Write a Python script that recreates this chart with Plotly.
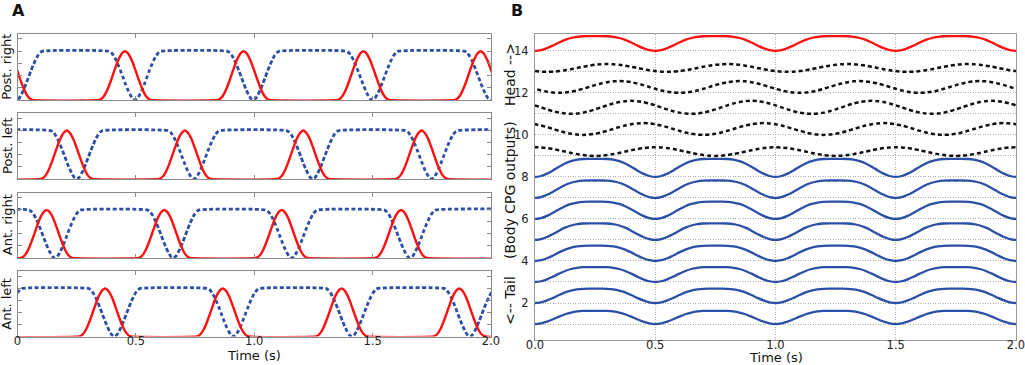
import plotly.graph_objects as go

# ---------------- Panel A data ----------------
LEG_NAMES = ["Post. right", "Post. left", "Ant. right", "Ant. left"]

# times (s) of the red bump peaks per leg
PR_RED_PEAKS = [-0.046, 0.454, 0.955, 1.461, 1.956]
PL_RED_PEAKS = [0.208, 0.707, 1.207, 1.707]
AR_RED_PEAKS = [0.123, 0.620, 1.116, 1.620]
AL_RED_PEAKS = [0.370, 0.867, 1.369, 1.866]

# times (s) of the blue dotted troughs per leg
PR_BLUE_TROUGHS = [-0.004, 0.496, 0.996, 1.499, 1.998]
PL_BLUE_TROUGHS = [0.250, 0.745, 1.247, 1.749]
AR_BLUE_TROUGHS = [0.158, 0.658, 1.158, 1.658]
AL_BLUE_TROUGHS = [-0.090, 0.409, 0.912, 1.412, 1.911]

LEG_AMPLITUDE = 0.8

# bump profile read around each event (time offset in s, fraction of amplitude)
PULSE_OFFSETS = [-0.11, -0.10, -0.09, -0.08, -0.07, -0.06, -0.05, -0.04, -0.03, -0.02, -0.01, 0.0,
                 0.01, 0.02, 0.03, 0.04, 0.05, 0.06, 0.07, 0.08, 0.09, 0.10, 0.11]
RED_BUMP_SHAPE = [0.0, 0.02, 0.07, 0.15, 0.26, 0.39, 0.53, 0.67, 0.80, 0.90, 0.97, 1.0,
                  0.97, 0.90, 0.80, 0.67, 0.53, 0.39, 0.26, 0.15, 0.07, 0.02, 0.0]
BLUE_DIP_SHAPE = [0.0, 0.03, 0.09, 0.18, 0.29, 0.41, 0.54, 0.67, 0.79, 0.89, 0.97, 1.0,
                  0.97, 0.89, 0.79, 0.67, 0.54, 0.41, 0.29, 0.18, 0.09, 0.03, 0.0]

# ---------------- Panel B data ----------------
OSC_INDEX = [1, 2, 3, 4, 5, 6, 7, 8, 9, 10, 11, 12, 13, 14]
OSC_AMPLITUDE = [0.63, 0.68, 0.71, 0.73, 0.79, 0.82, 0.83, 0.86,
                 0.41, 0.56, 0.62, 0.56, 0.37, 0.70]
OSC_TROUGH_TIME = [0, 0, 0, 0, 0, 0, 0, 0, 0.25, 0.20, 0.15, 0.10, 0.05, 0]
OSC_GROUP = ["body"] * 8 + ["lag"] * 5 + ["head"]

CYCLE_PERIOD = 0.5
CYCLE_TIMES = [0.0, 0.025, 0.05, 0.075, 0.1, 0.125, 0.15, 0.175, 0.2, 0.225, 0.25,
               0.275, 0.3, 0.325, 0.35, 0.375, 0.4, 0.425, 0.45, 0.475, 0.5]
BODY_SHAPE = [0.0, 0.05, 0.18, 0.36, 0.56, 0.74, 0.87, 0.95, 0.99, 1.0, 1.0,
              1.0, 0.99, 0.95, 0.87, 0.74, 0.56, 0.36, 0.18, 0.05, 0.0]
LAG_SHAPE = [0.0, 0.025, 0.095, 0.206, 0.345, 0.5, 0.655, 0.794, 0.905, 0.976, 1.0,
             0.976, 0.905, 0.794, 0.655, 0.5, 0.345, 0.206, 0.095, 0.025, 0.0]

X_TICKS = [0, 0.5, 1.0, 1.5, 2.0]
A_X_TICKTEXT = ["0", "0.5", "1.0", "1.5", "2.0"]
B_X_TICKTEXT = ["0.0", "0.5", "1.0", "1.5", "2.0"]
A_Y_TICKS = [0, 0.2, 0.4, 0.6, 0.8, 1.0]

# ---------------- styles ----------------
W, H = 1025, 365
FONT = "DejaVu Sans"
RED = "#ff1010"
BLUE = "#2c4fa6"
BLACK = "#111111"
FRAME = "#8a8a8a"


def px_x(p):
    return p / W


def px_y(p):
    return 1 - p / H


def pulse_series(events, shape, base, sign):
    xs, ys = [], []
    for c in sorted(events):
        for o, s in zip(PULSE_OFFSETS, shape):
            xs.append(c + o)
            ys.append(base + sign * LEG_AMPLITUDE * s)
    # flat extension beyond the window (clipped by the axis range)
    xs = [-0.5] + xs + [2.5]
    ys = [base] + ys + [base]
    return xs, ys


def osc_series(idx, amp, trough, shape):
    xs, ys = [], []
    for k in range(-2, 6):
        for j, (ct, s) in enumerate(zip(CYCLE_TIMES, shape)):
            if k > -2 and j == 0:
                continue
            xs.append(trough + k * CYCLE_PERIOD + ct)
            ys.append(idx + amp * s)
    return xs, ys


fig = go.Figure()

red_lists = [PR_RED_PEAKS, PL_RED_PEAKS, AR_RED_PEAKS, AL_RED_PEAKS]
blue_lists = [PR_BLUE_TROUGHS, PL_BLUE_TROUGHS, AR_BLUE_TROUGHS, AL_BLUE_TROUGHS]
# pixel frames of panel A rows (top, bottom)
A_ROWS = [(33.5, 100.0), (113.0, 179.0), (192.5, 258.0), (271.0, 336.5)]
A_LEFT, A_RIGHT = 17.5, 491.0

for i, name in enumerate(LEG_NAMES):
    ax = "" if i == 0 else str(i + 1)
    bx, by = pulse_series(blue_lists[i], BLUE_DIP_SHAPE, LEG_AMPLITUDE, -1)
    fig.add_trace(go.Scatter(x=bx, y=by, mode="lines", xaxis="x" + ax, yaxis="y" + ax,
                             line=dict(color=BLUE, width=2.8, dash="4px,2.5px", shape="spline", smoothing=0.6),
                             showlegend=False, hoverinfo="skip"))
    rx, ry = pulse_series(red_lists[i], RED_BUMP_SHAPE, 0.0, 1)
    fig.add_trace(go.Scatter(x=rx, y=ry, mode="lines", xaxis="x" + ax, yaxis="y" + ax,
                             line=dict(color=RED, width=2.4, shape="spline", smoothing=0.6),
                             showlegend=False, hoverinfo="skip"))

for idx, amp, tr, grp in zip(OSC_INDEX, OSC_AMPLITUDE, OSC_TROUGH_TIME, OSC_GROUP):
    shape = LAG_SHAPE if grp == "lag" else BODY_SHAPE
    xs, ys = osc_series(idx, amp, tr, shape)
    if grp == "body":
        line = dict(color=BLUE, width=2.3)
    elif grp == "lag":
        line = dict(color=BLACK, width=2.5, dash="4px,3px")
    else:
        line = dict(color=RED, width=2.3)
    line.update(shape="spline", smoothing=0.8)
    fig.add_trace(go.Scatter(x=xs, y=ys, mode="lines", xaxis="x5", yaxis="y5",
                             line=line, showlegend=False, hoverinfo="skip"))

layout = dict(
    width=W, height=H,
    margin=dict(l=0, r=0, t=0, b=0, autoexpand=False),
    paper_bgcolor="white", plot_bgcolor="white",
    font=dict(family=FONT, size=11.5, color="#222"),
)

for i in range(4):
    top, bot = A_ROWS[i]
    xk = "xaxis" if i == 0 else "xaxis%d" % (i + 1)
    yk = "yaxis" if i == 0 else "yaxis%d" % (i + 1)
    yref = "y" if i == 0 else "y%d" % (i + 1)
    xref = "x" if i == 0 else "x%d" % (i + 1)
    layout[xk] = dict(domain=[px_x(A_LEFT), px_x(A_RIGHT)], range=[0, 2], anchor=yref,
                      tickvals=X_TICKS, ticktext=A_X_TICKTEXT, showticklabels=(i == 3),
                      ticks="inside", ticklen=4, tickcolor=FRAME, showline=True, linecolor=FRAME,
                      linewidth=1, mirror="ticks", showgrid=False, zeroline=False,
                      automargin=False, ticklabelstandoff=-6, ticklabeloverflow="allow",
                      tickfont=dict(size=11.5, color="#222"))
    layout[yk] = dict(domain=[px_y(bot), px_y(top)], range=[0, 1.09], anchor=xref,
                      tickvals=A_Y_TICKS, showticklabels=False, ticks="inside", ticklen=4,
                      tickcolor=FRAME, showline=True, linecolor=FRAME, linewidth=1,
                      mirror="ticks", showgrid=False, zeroline=False, automargin=False)

B_LEFT, B_RIGHT, B_TOP, B_BOT = 535.0, 1016.0, 34.0, 340.0
layout["xaxis5"] = dict(domain=[px_x(B_LEFT), px_x(B_RIGHT)], range=[0, 2], anchor="y5",
                        tickvals=X_TICKS, ticktext=B_X_TICKTEXT, ticks="", showline=True,
                        linecolor="#999", linewidth=1.2, mirror=True, showgrid=True,
                        gridcolor="#b0b0b0", griddash="1px,1.5px", gridwidth=1, zeroline=False,
                        automargin=False, ticklabelstandoff=-6, ticklabeloverflow="allow",
                        tickfont=dict(size=11.5, color="#222"))
layout["yaxis5"] = dict(domain=[px_y(B_BOT), px_y(B_TOP)], range=[0.24, 14.8], anchor="x5",
                        tickvals=OSC_INDEX,
                        ticktext=[str(v) if v % 2 == 0 else "" for v in OSC_INDEX],
                        ticks="", showline=True, linecolor="#999", linewidth=1.2, mirror=True,
                        showgrid=True, gridcolor="#b0b0b0", griddash="1px,1.5px", gridwidth=1,
                        zeroline=False, automargin=False, ticklabelstandoff=3,
                        ticklabeloverflow="allow", tickfont=dict(size=11.5, color="#222"))

ann = []
for i, name in enumerate(LEG_NAMES):
    top, bot = A_ROWS[i]
    ann.append(dict(text=name, x=px_x(7), y=px_y((top + bot) / 2), xref="paper", yref="paper",
                    textangle=-90, showarrow=False, xanchor="center", yanchor="middle",
                    font=dict(size=13, color="#111")))
ann.append(dict(text="Time (s)", x=px_x((A_LEFT + A_RIGHT) / 2), y=px_y(355), xref="paper",
                yref="paper", showarrow=False, xanchor="center", yanchor="middle",
                font=dict(size=13, color="#111")))
ann.append(dict(text="Time (s)", x=px_x((B_LEFT + B_RIGHT) / 2), y=px_y(357.5), xref="paper",
                yref="paper", showarrow=False, xanchor="center", yanchor="middle",
                font=dict(size=13, color="#111")))
for txt, yc in [("Head -->", 75), ("(Body CPG outputs)", 190), ("<-- Tail", 301)]:
    ann.append(dict(text=txt.replace("<", "&lt;").replace(">", "&gt;"), x=px_x(510), y=px_y(yc),
                    xref="paper", yref="paper", textangle=-90, showarrow=False,
                    xanchor="center", yanchor="middle", font=dict(size=14, color="#111")))
ann.append(dict(text="<b>A</b>", x=px_x(18), y=px_y(11), xref="paper", yref="paper",
                showarrow=False, xanchor="center", yanchor="middle", font=dict(size=16, color="#111")))
ann.append(dict(text="<b>B</b>", x=px_x(517), y=px_y(11), xref="paper", yref="paper",
                showarrow=False, xanchor="center", yanchor="middle", font=dict(size=16, color="#111")))
layout["annotations"] = ann

fig.update_layout(**layout)
fig.write_html("out.html", config={"displayModeBar": False},
               post_script="document.body.style.margin='0px';document.body.style.overflow='hidden';")
